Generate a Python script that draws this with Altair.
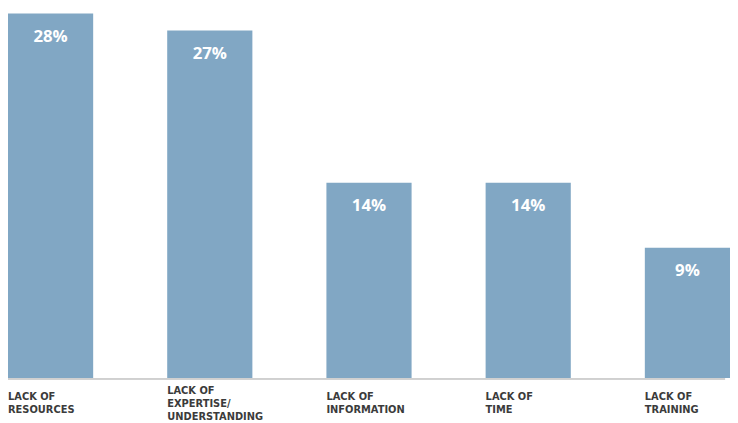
import altair as alt
import pandas as pd

# values (bar heights) and the printed labels
categories = ["LACK OF\nRESOURCES", "LACK OF\nEXPERTISE/\nUNDERSTANDING",
              "LACK OF\nINFORMATION", "LACK OF\nTIME", "LACK OF\nTRAINING"]
bar_heights = [28, 26.7, 15.0, 15.0, 10.0]
value_labels = ["28%", "27%", "14%", "14%", "9%"]

data = pd.DataFrame({
    "cat": categories,
    "value": bar_heights,
    "label": value_labels,
})

W, H = 731, 369
bar_color = "#81a7c4"

x = alt.X("cat:N", sort=None, axis=None,
          scale=alt.Scale(paddingInner=0.465, paddingOuter=0, round=False))
y = alt.Y("value:Q", axis=None, scale=alt.Scale(domain=[0, 28], nice=False, zero=True))

base = alt.Chart(data)

bars = base.mark_bar(color=bar_color).encode(x=x, y=y)

rule = base.mark_rule(color="#cfcfcf", strokeWidth=1).encode(
    x=alt.value(-3), x2=alt.value(726), y=alt.value(H + 1))

values = base.mark_text(color="white", font="Open Sans", fontWeight="bold",
                        fontSize=17, baseline="middle", dy=24).encode(
    x=x, y=y, text="label:N")


def cat_layer(n_lines, y_px):
    # labels are centred as a block under the bars, so the first line
    # sits higher when there are more lines
    return base.transform_calculate(
        n="length(split(datum.cat, '\\n'))"
    ).transform_filter(
        alt.datum.n == n_lines
    ).mark_text(color="#3b3b3b", font="DejaVu Sans", fontWeight="bold",
                fontSize=10, align="left", baseline="middle",
                lineBreak="\n", lineHeight=13.5).encode(
        x=alt.X("cat:N", sort=None, axis=None, bandPosition=0),
        y=alt.value(y_px),
        text="cat:N")


chart = (bars + rule + values + cat_layer(2, H + 19) + cat_layer(3, H + 13)).properties(
    width=W, height=H,
    padding={"left": 0, "top": 3, "right": 0, "bottom": 43},
    autosize=alt.AutoSizeParams(type="none"),
).configure_view(stroke=None)

chart.save("out.html", embed_options={"renderer": "svg", "actions": False})
